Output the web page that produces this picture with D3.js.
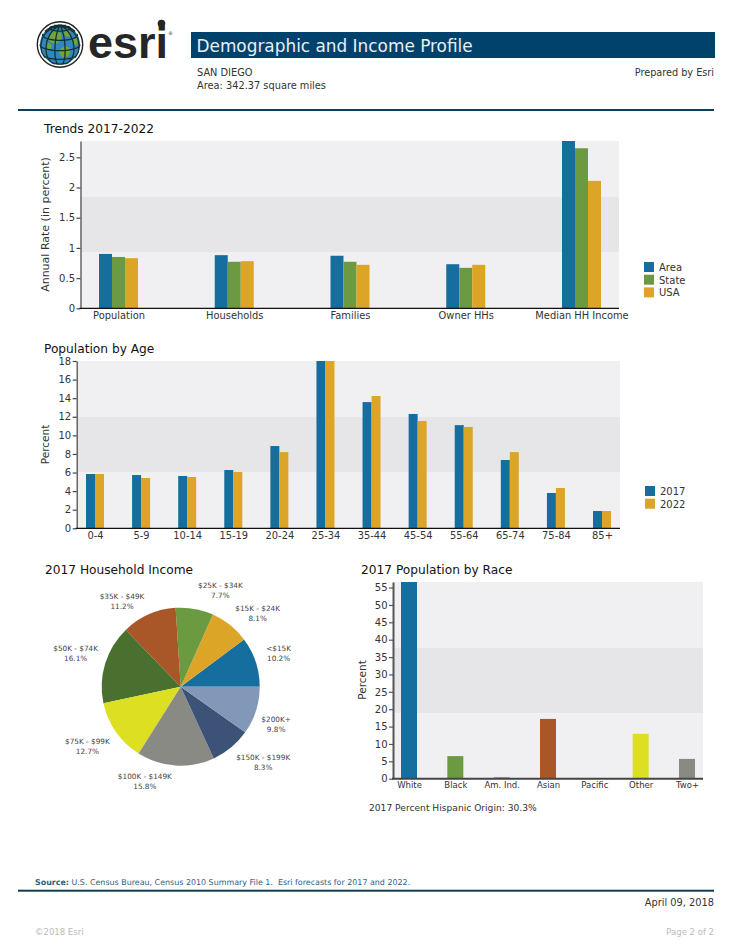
<!DOCTYPE html>
<html><head><meta charset="utf-8">
<script src="https://cdn.jsdelivr.net/npm/d3@7"></script>
<style>
html,body{margin:0;padding:0;background:#fff}
svg{display:block}
text{font-family:"DejaVu Sans",Verdana,sans-serif;fill:#333}
.title{font-size:12.2px;fill:#111}
.tick text{font-size:10px;fill:#333}
.pie{font-size:7.3px;fill:#444}
</style></head><body>
<svg id="c" width="733" height="949"></svg>
<script>
// ---------- data ----------
const trendCategories = ["Population","Households","Families","Owner HHs","Median HH Income"];
const trendArea  = [0.90,0.88,0.87,0.73,2.77];
const trendState = [0.85,0.77,0.77,0.67,2.65];
const trendUSA   = [0.83,0.78,0.72,0.72,2.11];
const trendTicks = [0,0.5,1,1.5,2,2.5];
const trendTickLabels = ["0","0.5","1","1.5","2","2.5"];
const trendMax = 2.77;

const ageCategories = ["0-4","5-9","10-14","15-19","20-24","25-34","35-44","45-54","55-64","65-74","75-84","85+"];
const age2017 = [5.84,5.73,5.63,6.27,8.85,18,13.58,12.3,11.1,7.35,3.8,1.86];
const age2022 = [5.84,5.41,5.52,6.06,8.2,18,14.23,11.54,10.9,8.2,4.34,1.86];
const ageTicks = [0,2,4,6,8,10,12,14,16,18];
const ageMax = 18;

const incomeLabels = ["<$15K","$15K - $24K","$25K - $34K","$35K - $49K","$50K - $74K","$75K - $99K","$100K - $149K","$150K - $199K","$200K+"];
const incomeValues = [10.2,8.1,7.7,11.2,16.1,12.7,15.8,8.3,9.8];

const raceCategories = ["White","Black","Am. Ind.","Asian","Pacific","Other","Two+"];
const raceValues = [56.6,6.5,0.5,17.2,0,12.9,5.7];
const raceTicks = [0,5,10,15,20,25,30,35,40,45,50,55];
const raceMax = 56.6;

// ---------- styles / layout ----------
const BLUE="#166e9e",GREEN="#6c9a40",GOLD="#dca528";
const pieColors=[BLUE,GOLD,GREEN,"#a95628","#4a7030","#dcdf22","#8a8a84","#3d5277","#8298b8"];
const bandLight="#f0f0f2",bandDark="#e6e6e8";
const svg=d3.select("#c");

function text(x,y,s,cls,attrs={}){
  const t=svg.append("text").attr("x",x).attr("y",y).text(s);
  if(cls)t.attr("class",cls);
  for(const k in attrs)t.attr(k,attrs[k]);
  return t;
}
function rule(y,x1,x2){svg.append("rect").attr("x",x1).attr("y",y-1).attr("width",x2-x1).attr("height",2).attr("fill","#0f3f58");}

function barChart(o){
  const y=d3.scaleLinear().domain([0,o.max]).range([o.bottom,o.top]);
  const x=d3.scalePoint().domain(o.categories).range(o.xRange);
  const h=(o.bottom-o.top)/3;
  [bandLight,bandDark,bandLight].forEach((c,i)=>svg.append("rect")
    .attr("x",o.left).attr("y",o.top+i*h).attr("width",o.right-o.left).attr("height",h).attr("fill",c));
  const n=o.series.length;
  o.series.forEach((s,si)=>{
    svg.append("g").selectAll("rect").data(s.values).join("rect")
      .attr("x",(d,i)=>x(o.categories[i])-n*o.barW/2+si*o.barW)
      .attr("y",d=>y(d)).attr("width",o.barW).attr("height",d=>o.bottom-y(d))
      .attr("fill",(d,i)=>s.colors?s.colors[i]:s.color);
  });
  const ya=svg.append("g").attr("transform",`translate(${o.left},0)`)
    .call(d3.axisLeft(y).tickValues(o.ticks).tickSize(4).tickSizeOuter(0).tickPadding(1.5)
      .tickFormat((d,i)=>o.tickLabels?o.tickLabels[i]:d));
  ya.selectAll("path,line").attr("stroke",o.axisColor).attr("stroke-width",1.2);
  ya.select(".domain").attr("stroke-width",o.axisW);
  const xa=svg.append("g").attr("transform",`translate(0,${o.bottom})`)
    .call(d3.axisBottom(x).tickSize(0).tickPadding(o.xPad));
  xa.select(".domain").remove();
  xa.selectAll(".tick text").style("font-size",o.xFont+"px");
  svg.append("line").attr("x1",o.left-1).attr("x2",o.right).attr("y1",o.bottom).attr("y2",o.bottom)
    .attr("stroke",o.baseColor).attr("stroke-width",o.baseW);
  text(0,0,o.yTitle,null,{transform:`translate(${o.yTitleX},${(o.yTitleY)}) rotate(-90)`,"text-anchor":"middle","font-size":o.yTitleFont});
  if(o.legend)o.legend.forEach((l,i)=>{
    svg.append("rect").attr("x",o.legendX).attr("y",o.legendY+i*12.7).attr("width",10).attr("height",10).attr("fill",l.color);
    text(o.legendX+15,o.legendY+i*12.7+8.8,l.name,null,{"font-size":10});
  });
}

// ---------- header ----------
const g=d3.geoOrthographic().translate([60,44.5]).scale(20).rotate([75,-18]).clipAngle(90);
const gp=d3.geoPath(g);
svg.append("circle").attr("cx",60).attr("cy",44.5).attr("r",22.7).attr("fill","#fff").attr("stroke","#222").attr("stroke-width",1.4);
svg.append("circle").attr("cx",60).attr("cy",44.5).attr("r",20).attr("fill","#2f86c0");
[[-95,40,20],[-60,-5,17],[-110,10,9],[-40,50,12],[-20,20,11]].forEach(b=>
  svg.append("path").datum(d3.geoCircle().center([b[0],b[1]]).radius(b[2])()).attr("d",gp).attr("fill","#6fa53a"));
svg.append("path").datum(d3.geoGraticule().step([30,30])()).attr("d",gp).attr("fill","none").attr("stroke","#16302e").attr("stroke-width",1.3);
text(88,57.5,"esri",null,{style:"font-family:'Liberation Sans';font-weight:700;font-size:45px;fill:#262626"});
svg.append("circle").attr("cx",161.5).attr("cy",23.5).attr("r",3.8).attr("fill","#262626");
text(168,35,"®",null,{"font-size":5});

svg.append("rect").attr("x",191).attr("y",32).attr("width",524).attr("height",26).attr("fill","#00426b");
text(196.5,52,"Demographic and Income Profile",null,{style:"font-size:16.9px;fill:#e8f0f5"});
text(197,76,"SAN DIEGO",null,{"font-size":9.8});
text(197,89,"Area: 342.37 square miles",null,{"font-size":9.8});
text(714,76,"Prepared by Esri",null,{"font-size":9.7,"text-anchor":"end"});
rule(110,18,714);

// ---------- trends ----------
text(44,133,"Trends 2017-2022","title");
barChart({categories:trendCategories,max:trendMax,ticks:trendTicks,tickLabels:trendTickLabels,
  series:[{values:trendArea,color:BLUE},{values:trendState,color:GREEN},{values:trendUSA,color:GOLD}],
  left:80.5,right:619,top:141,bottom:308.3,xRange:[118.5,581.5],barW:13,xPad:3.5,xFont:9.9,
  axisColor:"#444",axisW:1.2,baseColor:"#111",baseW:1.2,yTitle:"Annual Rate (in percent)",yTitleFont:11,yTitleX:49,yTitleY:224.5,
  legend:[{name:"Area",color:BLUE},{name:"State",color:GREEN},{name:"USA",color:GOLD}],legendX:644,legendY:262});

// ---------- age ----------
text(44,353,"Population by Age","title");
barChart({categories:ageCategories,max:ageMax,ticks:ageTicks,
  series:[{values:age2017,color:BLUE},{values:age2022,color:GOLD}],
  left:76.7,right:620,top:361,bottom:528.3,xRange:[95,602],barW:9,xPad:3.5,xFont:9.9,
  axisColor:"#444",axisW:1.2,baseColor:"#111",baseW:1.2,yTitle:"Percent",yTitleFont:10.5,yTitleX:49,yTitleY:444.5,
  legend:[{name:"2017",color:BLUE},{name:"2022",color:GOLD}],legendX:645,legendY:486});

// ---------- pie ----------
text(45,574,"2017 Household Income","title");
const pieCx=180.7,pieCy=686.7,pieR=79;
const arcs=d3.pie().sort(null).startAngle(Math.PI/2).endAngle(Math.PI/2-2*Math.PI)(incomeValues);
const arc=d3.arc().innerRadius(0).outerRadius(pieR);
const pg=svg.append("g").attr("transform",`translate(${pieCx},${pieCy})`);
pg.selectAll("path").data(arcs).join("path").attr("d",arc).attr("fill",(d,i)=>pieColors[i]);
// label placement: polar position around the pie, as [radius, degrees anticlockwise from east]
const labelPolar=[[104,19.7],[107,44],[105,67.8],[105,124],[110.7,161.6],[110,212],[100,249],[111,318],[102,339.3]];
incomeLabels.forEach((l,i)=>{
  const [r,a]=labelPolar[i],t=a*Math.PI/180;
  const lx=pieCx+r*Math.cos(t),ly=pieCy-r*Math.sin(t);
  text(lx,ly-1,l,"pie",{"text-anchor":"middle"});
  text(lx,ly+9,incomeValues[i].toFixed(1)+"%","pie",{"text-anchor":"middle"});
});

// ---------- race ----------
text(361,574,"2017 Population by Race","title");
barChart({categories:raceCategories,max:raceMax,ticks:raceTicks,
  series:[{values:raceValues,colors:[BLUE,GREEN,GOLD,"#a95628","#3d5277","#dcdf22","#8a8a84"]}],
  left:393,right:703,top:582,bottom:778.7,xRange:[409,687],barW:16,xPad:3,xFont:8.5,
  axisColor:"#555",axisW:2,baseColor:"#444",baseW:2,yTitle:"Percent",yTitleFont:10.5,yTitleX:366,yTitleY:680});
text(369,811,"2017 Percent Hispanic Origin: 30.3%",null,{"font-size":9.15});

// ---------- footer ----------
const src=svg.append("text").attr("x",35).attr("y",885).attr("font-size",7.95).style("fill","#2e5f7f");
src.append("tspan").attr("font-weight",700).text("Source:");
src.append("tspan").text(" U.S. Census Bureau, Census 2010 Summary File 1.  Esri forecasts for 2017 and 2022.").attr("xml:space","preserve");
rule(890.7,18,714);
text(714,906,"April 09, 2018",null,{"font-size":9.8,"text-anchor":"end"});
text(35,935,"©2018 Esri",null,{style:"font-size:8.5px;fill:#bbb"});
text(714,935,"Page 2 of 2",null,{style:"font-size:8.5px;fill:#bbb","text-anchor":"end"});
</script></body></html>
